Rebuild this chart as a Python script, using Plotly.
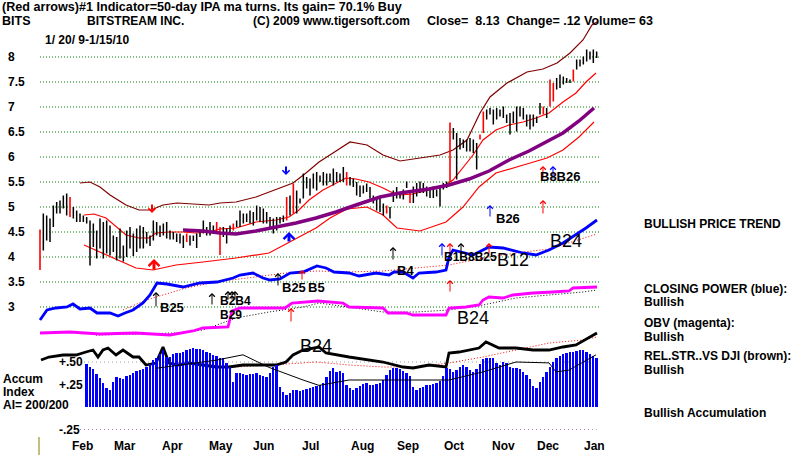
import plotly.graph_objects as go

W, H = 800, 457
FONT = "Liberation Sans"

# ---------------- data (x = bar number, 0 = 1/20/09, last = 1/15/10) ----------------
bar_high = [4.55, 4.87, 4.83, 4.77, 5.03, 5.10, 5.13, 5.23, 5.27, 5.20, 5.00, 4.93, 4.87, 4.83, 4.80, 4.73, 4.67, 4.53, 4.77, 4.70,
            4.73, 4.63, 4.43, 4.40, 4.57, 4.23, 4.53, 4.60, 4.47, 4.57, 4.63, 4.60, 4.50, 4.43, 4.73, 4.70, 4.63, 4.67, 4.70, 4.53,
            4.50, 4.47, 4.47, 4.43, 4.47, 4.43, 4.43, 4.47, 4.50, 4.73, 4.60, 4.70, 4.63, 4.70, 4.60,
            4.60, 4.57, 4.63, 4.67, 4.73, 4.93, 4.87, 4.87, 4.93, 4.90, 5.03, 5.00, 4.97, 4.90, 4.80, 4.77, 4.80, 4.80, 4.83, 5.20,
            5.23, 5.47, 5.33, 5.17, 5.67, 5.60, 5.57, 5.67, 5.70, 5.63, 5.70, 5.67, 5.67, 5.77, 5.70, 5.67, 5.80, 5.70, 5.60, 5.57,
            5.50, 5.43, 5.43, 5.47, 5.40, 5.23, 5.20, 5.17, 5.07, 5.03, 5.00, 5.33, 5.40, 5.30,
            5.35, 5.51, 5.31, 5.41, 5.48, 5.51, 5.48, 5.41, 5.38, 5.41, 5.35, 5.41, 5.48, 5.51, 6.69, 6.58, 6.48, 6.38, 6.35, 6.35,
            6.38, 6.35, 6.28, 6.45, 6.91, 6.95, 6.98, 6.95, 6.98, 6.95, 7.01, 6.85, 6.88, 6.91, 7.01, 7.01, 6.98, 6.85, 6.85, 6.85,
            6.81, 7.08, 7.01, 6.98, 7.55, 7.48, 7.58, 7.65, 7.61, 7.58, 7.55, 7.75, 7.95, 7.95, 8.01, 8.15, 8.11, 8.15, 8.11]
bar_low = [3.74, 4.13, 4.33, 4.30, 4.60, 4.87, 4.87, 4.97, 4.83, 4.80, 4.77, 4.70, 4.70, 4.70, 4.67, 3.83, 4.20, 3.97, 4.17, 3.97,
           4.07, 4.03, 4.10, 3.93, 3.97, 3.91, 4.00, 4.17, 4.02, 4.10, 4.17, 4.17, 4.27, 4.22, 4.33, 4.43, 4.40, 4.43, 4.37, 4.35,
           4.35, 4.30, 4.27, 4.18, 4.30, 4.23, 4.32, 4.18, 4.40, 4.47, 4.43, 4.43, 4.47, 4.47, 4.04,
           4.40, 4.27, 4.50, 4.53, 4.60, 4.60, 4.67, 4.70, 4.67, 4.63, 4.73, 4.70, 4.67, 4.67, 4.57, 4.47, 4.53, 4.67, 4.70, 4.73,
           4.83, 4.87, 4.87, 5.07, 5.17, 5.37, 5.23, 5.37, 5.33, 5.50, 5.43, 5.43, 5.50, 5.43, 5.50, 5.50, 5.50, 5.43, 5.43, 5.40,
           5.23, 5.20, 5.27, 5.30, 5.17, 5.07, 4.93, 4.90, 4.83, 4.87, 4.77, 5.10, 5.17, 5.17,
           5.15, 5.38, 5.08, 5.08, 5.21, 5.28, 5.28, 5.21, 5.18, 5.18, 5.21, 5.01, 5.35, 5.38, 5.50, 6.35, 5.55, 6.15, 6.18, 6.11,
           6.11, 6.08, 5.75, 6.35, 6.48, 6.75, 6.85, 6.65, 6.75, 6.81, 6.78, 6.68, 6.45, 6.68, 6.51, 6.81, 6.75, 6.61, 6.55, 6.61,
           6.68, 6.85, 6.85, 6.78, 7.01, 7.11, 7.35, 7.38, 7.45, 7.48, 7.48, 7.51, 7.75, 7.81, 7.85, 7.91, 7.95, 7.88, 7.98]
red_bars = [0, 9, 44, 53, 54, 58, 74, 76, 92, 104, 111, 123, 132, 133, 151, 153, 154, 160]

upper_x = [12.0, 15.0, 18.0, 21.0, 25.8, 29.7, 33.3, 36.9, 41.1, 45.9, 50.7, 54.0, 58.8, 64.8, 70.8, 75.9, 79.8, 83.7, 87.9,
           93.0, 98.1, 102.9, 108.0, 114.0, 120.0, 123.9, 128.1, 132.0, 135.0, 140.1, 146.1, 150.9, 155.1, 159.0, 162.9, 165.6, 167.1]
upper_y = [5.48, 5.50, 5.40, 5.24, 5.04, 4.94, 4.94, 5.04, 5.08, 5.06, 5.04, 5.08, 5.10, 5.20, 5.36, 5.48, 5.68, 5.90, 6.08,
           6.30, 6.24, 6.04, 5.92, 5.98, 6.04, 6.14, 6.34, 6.88, 7.20, 7.48, 7.70, 7.76, 7.88, 8.08, 8.34, 8.64, 8.70]
bandA_x = [13.2, 16.2, 19.8, 22.2, 25.8, 29.7, 32.7, 34.8, 38.7, 42.9, 46.8, 50.7, 54.0, 58.8, 64.8, 70.8, 74.7, 77.7, 80.7,
           84.9, 88.8, 91.8, 94.8, 98.7, 102.9, 105.9, 108.0, 111.9, 116.7, 120.9, 123.9, 126.9, 129.9, 132.9, 136.8, 140.7,
           144.9, 148.8, 152.7, 156.9, 160.8, 163.8, 166.8]
bandA_y = [4.84, 4.86, 4.78, 4.64, 4.44, 4.38, 4.38, 4.48, 4.50, 4.50, 4.48, 4.50, 4.56, 4.58, 4.70, 4.74, 4.80, 4.94, 5.14,
           5.34, 5.48, 5.58, 5.56, 5.50, 5.38, 5.28, 5.24, 5.26, 5.34, 5.40, 5.54, 5.78, 6.04, 6.34, 6.54, 6.64,
           6.70, 6.78, 6.88, 7.10, 7.28, 7.50, 7.68]
ma50_x = [42.9, 48.9, 54.0, 58.8, 64.8, 70.8, 76.8, 82.8, 88.8, 94.8, 102.0, 108.0, 116.7, 122.7, 128.7, 134.7, 140.7,
          146.7, 151.8, 156.9, 161.7, 166.2]
ma50_y = [4.54, 4.52, 4.48, 4.46, 4.52, 4.60, 4.68, 4.78, 4.90, 5.04, 5.20, 5.28, 5.36, 5.44, 5.56, 5.72, 5.94,
          6.12, 6.30, 6.48, 6.72, 6.98]
bandB_x = [13.2, 21.9, 28.8, 33.9, 40.8, 48.9, 58.8, 68.7, 75.0, 78.9, 82.8, 87.0, 92.1, 98.1, 102.9, 107.1, 114.0, 121.8,
           126.9, 131.7, 136.8, 144.0, 152.1, 156.9, 161.7, 166.2]
bandB_y = [4.24, 3.98, 3.78, 3.74, 3.84, 3.90, 3.98, 4.08, 4.30, 4.44, 4.58, 4.78, 4.96, 5.00, 4.84, 4.58, 4.52, 4.70,
           5.00, 5.40, 5.68, 5.82, 5.98, 6.14, 6.40, 6.70]

# Closing power, OBV, relative strength (plotted in the price panel's units)
cp_x = [0, 2.1, 4.8, 8.1, 9.9, 12.0, 15.0, 17.1, 21.0, 23.4, 25.5, 27.9, 30.9, 33.0, 35.1, 38.1, 42.9, 48.0, 53.1, 57.9,
        60.0, 63.9, 66.9, 69.0, 72.0, 75.0, 78.9, 83.1, 85.8, 88.2, 92.7, 95.7, 100.8, 104.7, 106.2, 108.9, 111.9, 113.7,
        118.8, 121.8, 122.7, 123.9, 129.9, 134.7, 138.9, 144.9, 148.8, 152.7, 156.9, 160.8, 163.8, 167.1]
cp_y = [2.74, 2.94, 2.98, 3.00, 3.06, 2.96, 2.98, 2.88, 2.88, 2.82, 2.88, 2.94, 3.08, 3.24, 3.48, 3.46, 3.40, 3.48, 3.50, 3.58,
        3.64, 3.68, 3.58, 3.54, 3.56, 3.68, 3.70, 3.82, 3.78, 3.70, 3.68, 3.62, 3.68, 3.64, 3.70, 3.70, 3.58, 3.68,
        3.70, 3.74, 4.00, 4.14, 4.04, 4.20, 4.18, 4.08, 4.04, 4.14, 4.28, 4.44, 4.58, 4.74]
cpma_x = [24.9, 31.8, 36.9, 43.8, 52.8, 63.9, 73.8, 82.8, 92.7, 102.9, 112.8, 122.7, 132.9, 142.8, 152.7, 158.7, 167.1]
cpma_y = [2.94, 3.14, 3.24, 3.38, 3.50, 3.60, 3.68, 3.72, 3.70, 3.72, 3.78, 3.84, 3.98, 4.08, 4.16, 4.28, 4.46]
obv_x = [0, 9.0, 18.0, 28.5, 39.0, 45.9, 48.9, 56.4, 57.6, 60.0, 73.5, 75.6, 83.4, 87.9, 90.9, 92.7, 102.9, 104.4, 109.8,
         111.9, 121.8, 122.7, 127.8, 131.7, 132.9, 134.7, 138.9, 141.9, 147.9, 153.9, 158.7, 159.9, 165.9, 167.1]
obv_y = [2.48, 2.50, 2.46, 2.48, 2.44, 2.52, 2.58, 2.60, 2.92, 2.98, 2.98, 3.08, 3.12, 3.10, 3.08, 3.00, 2.98, 2.88, 2.88,
         2.84, 2.84, 2.98, 3.00, 3.04, 3.14, 3.20, 3.18, 3.24, 3.28, 3.30, 3.32, 3.38, 3.40, 3.40]
obvma_x = [16.8, 40.8, 48.9, 58.8, 68.7, 78.9, 83.7, 102.9, 112.8, 122.7, 132.9, 142.8, 152.7, 162.9, 167.1]
obvma_y = [2.44, 2.48, 2.54, 2.78, 2.90, 3.00, 3.08, 2.90, 2.90, 2.94, 3.04, 3.18, 3.24, 3.30, 3.34]
rs_x = [0.3, 2.7, 6.9, 10.8, 13.8, 15.9, 17.4, 18.9, 20.4, 22.8, 24.9, 27.9, 29.7, 31.8, 34.8, 36.9, 38.7, 41.7, 44.7, 48.9,
        52.8, 56.7, 60.9, 66.9, 70.8, 73.8, 75.9, 78.9, 83.7, 85.8, 92.7, 102.9, 108.9, 111.9, 116.7, 121.8, 122.7, 125.7,
        131.7, 133.8, 137.7, 142.8, 147.9, 152.7, 156.9, 160.8, 165.9, 167.1]
rs_y = [1.94, 2.00, 2.04, 2.04, 2.10, 2.14, 2.00, 2.14, 2.18, 2.04, 2.14, 2.00, 2.00, 1.84, 1.88, 2.20, 1.88, 1.84, 1.88, 1.84,
        1.80, 1.80, 1.84, 1.84, 1.84, 1.90, 2.04, 2.14, 2.20, 2.08, 2.00, 1.90, 1.80, 1.78, 1.84, 1.80, 2.08, 2.10,
        2.18, 2.30, 2.18, 2.18, 2.14, 2.14, 2.20, 2.24, 2.44, 2.48]
rsma_x = [37.8, 58.8, 78.9, 82.8, 92.7, 102.9, 112.8, 122.7, 132.9, 142.8, 152.7, 162.9, 167.1]
rsma_y = [1.90, 1.80, 1.88, 1.90, 1.84, 1.80, 1.80, 1.88, 2.00, 2.14, 2.28, 2.34, 2.40]

# Accumulation index (bars 14..167)
accum_start = 14
accum = [0.48, 0.44, 0.42, 0.37, 0.32, 0.27, 0.21, 0.19, 0.28, 0.33, 0.32, 0.31, 0.34, 0.36, 0.38, 0.40, 0.41, 0.42, 0.45, 0.48,
         0.52, 0.55, 0.59, 0.63, 0.56, 0.56, 0.59, 0.60, 0.60, 0.61, 0.63, 0.64, 0.66, 0.65, 0.64, 0.63, 0.61, 0.60, 0.58, 0.57,
         0.55, 0.54, 0.49, 0.44, 0.28, 0.38, 0.38, 0.37, 0.36, 0.37, 0.37, 0.38, 0.36, 0.35, 0.33, 0.38, 0.44, 0.47, 0.22, 0.17,
         0.13, 0.16, 0.19, 0.19, 0.18, 0.19, 0.20, 0.21, 0.22, 0.23, 0.25, 0.27, 0.33, 0.40, 0.43, 0.39, 0.40, 0.38, 0.25, 0.21,
         0.19, 0.21, 0.23, 0.26, 0.27, 0.25, 0.24, 0.26, 0.27, 0.30, 0.36, 0.41, 0.43, 0.43, 0.42, 0.40, 0.38, 0.34, 0.22, 0.19,
         0.21, 0.22, 0.24, 0.25, 0.26, 0.27, 0.29, 0.35, 0.43, 0.42, 0.39, 0.41, 0.45, 0.47, 0.44, 0.41, 0.39, 0.42, 0.48, 0.53,
         0.55, 0.54, 0.54, 0.49, 0.47, 0.50, 0.49, 0.45, 0.43, 0.43, 0.42, 0.39, 0.36, 0.31, 0.23, 0.21, 0.28, 0.33, 0.39, 0.45,
         0.50, 0.54, 0.57, 0.59, 0.60, 0.61, 0.61, 0.62, 0.63, 0.63, 0.61, 0.59, 0.57, 0.55]
accma_x = [34.8, 52.8, 60.9, 68.7, 78.9, 83.7, 92.7, 102.9, 112.8, 122.7, 132.9, 142.8, 152.7, 154.8, 158.7, 166.8]
accma_y = [0.43, 0.52, 0.58, 0.44, 0.30, 0.24, 0.30, 0.30, 0.30, 0.30, 0.39, 0.50, 0.49, 0.39, 0.41, 0.58]

months = ["Feb", "Mar", "Apr", "May", "Jun", "Jul", "Aug", "Sep", "Oct", "Nov", "Dec", "Jan"]
month_pos = [12.6, 25.5, 39.6, 54.3, 66.9, 81.0, 96.6, 110.4, 124.2, 138.9, 152.4, 166.5]
price_levels = [8, 7.5, 7, 6.5, 6, 5.5, 5, 4.5, 4, 3.5, 3]
price_labels = ["8", "7.5", "7", "6.5", "6", "5.5", "5", "4.5", "4", "3.5", "3"]
accum_levels = [0.5, 0.25, -0.25]
accum_labels = ["+.50", "+.25", "-.25"]

# signal arrows: (bar, head value, tail value, colour, width)
arrows = [
    (33.6, 4.88, 5.08, "#ff0000", 2), (34.2, 3.96, 3.72, "#ff0000", 3),
    (73.8, 5.64, 5.84, "#0000ff", 2), (74.7, 4.50, 4.28, "#0000ff", 3),
    (34.8, 3.30, 2.98, "#000000", 1), (51.6, 3.28, 3.02, "#000000", 1),
    (56.4, 3.32, 3.12, "#000000", 1), (57.6, 3.32, 3.12, "#000000", 1), (58.5, 3.32, 3.12, "#000000", 1),
    (71.4, 3.68, 3.40, "#000000", 1), (78.6, 3.74, 3.52, "#ff0000", 1), (75.3, 2.98, 2.68, "#ff0000", 1),
    (105.9, 4.20, 3.92, "#000000", 1), (120.6, 4.28, 4.00, "#0000ff", 1), (123.0, 4.28, 4.00, "#ff0000", 1),
    (126.3, 4.28, 4.04, "#000000", 1), (134.7, 4.28, 4.04, "#ff0000", 1), (123.0, 3.54, 3.28, "#ff0000", 1),
    (135.0, 5.04, 4.78, "#0000ff", 1), (150.9, 5.14, 4.84, "#ff0000", 1), (150.9, 5.82, 5.54, "#ff0000", 1),
    (153.9, 5.82, 5.54, "#0000ff", 1),
]
# signal labels: (text, x px, y px, size, bold)
signal_labels = [
    ("B25", 172, 307, 13, True), ("B29", 231, 315, 12, True), ("B2B4", 235, 301, 12, True),
    ("B25", 294, 287, 13, True), ("B5", 316, 287, 13, True), ("B4", 405, 270, 13, True),
    ("B1B8B25", 470, 257, 12, True),
    ("B12", 513, 260, 18, False), ("B24", 473, 318, 18, False), ("B24", 566, 241, 18, False),
    ("B24", 316, 346, 18, False), ("B26", 508, 218, 13, True), ("B8B26", 560, 177, 13, True),
]

# ---------------- figure ----------------
X0, DX = 40.0, 3.3333
xr = [-X0 / DX, (W - X0) / DX]
fig = go.Figure()

def line(x, y, color, width, dash="solid", axis="y"):
    fig.add_trace(go.Scatter(x=x, y=y, mode="lines", yaxis=axis, hoverinfo="skip",
                             line=dict(color=color, width=width, dash=dash)))

# grid
for lv in price_levels:
    fig.add_shape(type="line", x0=0, x1=168, y0=lv, y1=lv, xref="x", yref="y",
                  line=dict(color="#008000", width=1, dash="1px,2px"), layer="below")
fig.add_shape(type="line", x0=12, x1=168, y0=0.5, y1=0.5, xref="x", yref="y2",
              line=dict(color="#a0a0a0", width=1, dash="1px,3px"), layer="below")
fig.add_shape(type="line", x0=12, x1=167, y0=-0.25, y1=-0.25, xref="x", yref="y2",
              line=dict(color="#c080c0", width=1, dash="1px,3px"), layer="below")

# accumulation bars
fig.add_trace(go.Bar(x=list(range(accum_start, accum_start + len(accum))), y=accum, yaxis="y2",
                     marker=dict(color="#0000ff", line=dict(width=0)), width=0.55, hoverinfo="skip"))
line(accma_x, accma_y, "#000000", 1, axis="y2")

# bands
line(upper_x, upper_y, "#800000", 1.2)
line(bandA_x, bandA_y, "#ff0000", 1.2)
line(bandB_x, bandB_y, "#ff0000", 1.2)

# price bars
bx, by, rx, ry = [], [], [], []
for i, (h, l) in enumerate(zip(bar_high, bar_low)):
    if i in red_bars:
        rx += [i, i, None]; ry += [l, h, None]
    else:
        bx += [i, i, None]; by += [l, h, None]
line(bx, by, "#000000", 1.5)
line(rx, ry, "#ff0000", 1.6)
line(ma50_x, ma50_y, "#800080", 3.5)

# indicators
line(cpma_x, cpma_y, "#ff0000", 1, "1px,2px")
line(cp_x, cp_y, "#0000ff", 2.8)
line(obvma_x, obvma_y, "#000000", 1, "1px,2px")
line(obv_x, obv_y, "#ff00ff", 2.8)
line(rsma_x, rsma_y, "#ff0000", 1, "1px,2px")
line(rs_x, rs_y, "#000000", 2.8)

ann = []
def T(text, x, y, size=12, bold=True, color="#000000", xanchor="left", xref="paper", yref="paper"):
    if xref == "paper":
        x = x / W
    if yref == "paper":
        y = 1 - y / H
    ann.append(dict(text=("<b>%s</b>" % text) if bold else text, x=x, y=y, xref=xref, yref=yref,
                    xanchor=xanchor, yanchor="middle", showarrow=False,
                    font=dict(family=FONT, size=size, color=color)))

for (x, yh, yt, c, w) in arrows:
    ann.append(dict(x=x, y=yh, ax=x, ay=yt, xref="x", yref="y", axref="x", ayref="y", text="",
                    showarrow=True, arrowhead=4, arrowsize=1.1 if w == 1 else 0.7, arrowwidth=w, arrowcolor=c))

T("(Red arrows)#1 Indicator=50-day IPA ma turns. Its gain= 70.1% Buy", 0, 7.5, 12.6)
T("BITS", 0, 21, 12.5)
T("BITSTREAM INC.", 85, 21, 12)
T("(C) 2009 www.tigersoft.com", 251, 21, 12)
T("Close=\u00a0\u00a08.13\u00a0\u00a0Change= .12 Volume= 63", 425, 21, 12.5)
T("1/ 20/ 9-1/15/10", 43, 40, 12)

for lv, lb in zip(price_levels, price_labels):
    T(lb, 6, lv, 12, yref="y")
for lv, lb in zip(accum_levels, accum_labels):
    T(lb, 57, lv, 12, yref="y2")
T("Accum", 1, 379, 12)
T("Index", 1, 392, 12)
T("AI= 200/200", 1, 405, 12)
for m, p in zip(months, month_pos):
    T(m, p, 446, 12, xanchor="center", xref="x")

for (t, x, y, s, b) in signal_labels:
    T(t, x, y, s, b, xanchor="center")

right = [("BULLISH PRICE TREND", 224), ("CLOSING POWER (blue):", 289), ("Bullish", 302),
         ("OBV (magenta):", 323), ("Bullish", 337), ("REL.STR..VS DJI (brown):", 356), ("Bullish", 370),
         ("Bullish Accumulation", 413)]
for t, y in right:
    T(t, 642, y, 12)

fig.add_shape(type="line", x0=39 / W, x1=39 / W, y0=1 - 437 / H, y1=1 - 455 / H, xref="paper", yref="paper",
              line=dict(color="#808000", width=1))

fig.update_layout(
    width=W, height=H, margin=dict(l=0, r=0, t=0, b=0), paper_bgcolor="white", plot_bgcolor="white",
    showlegend=False, annotations=ann, bargap=0,
    xaxis=dict(range=xr, visible=False, fixedrange=True),
    yaxis=dict(range=[0, 9.14], visible=False, fixedrange=True),
    yaxis2=dict(range=[-50 / 90, 407 / 90], visible=False, overlaying="y", fixedrange=True),
)
fig.write_html("out.html")
